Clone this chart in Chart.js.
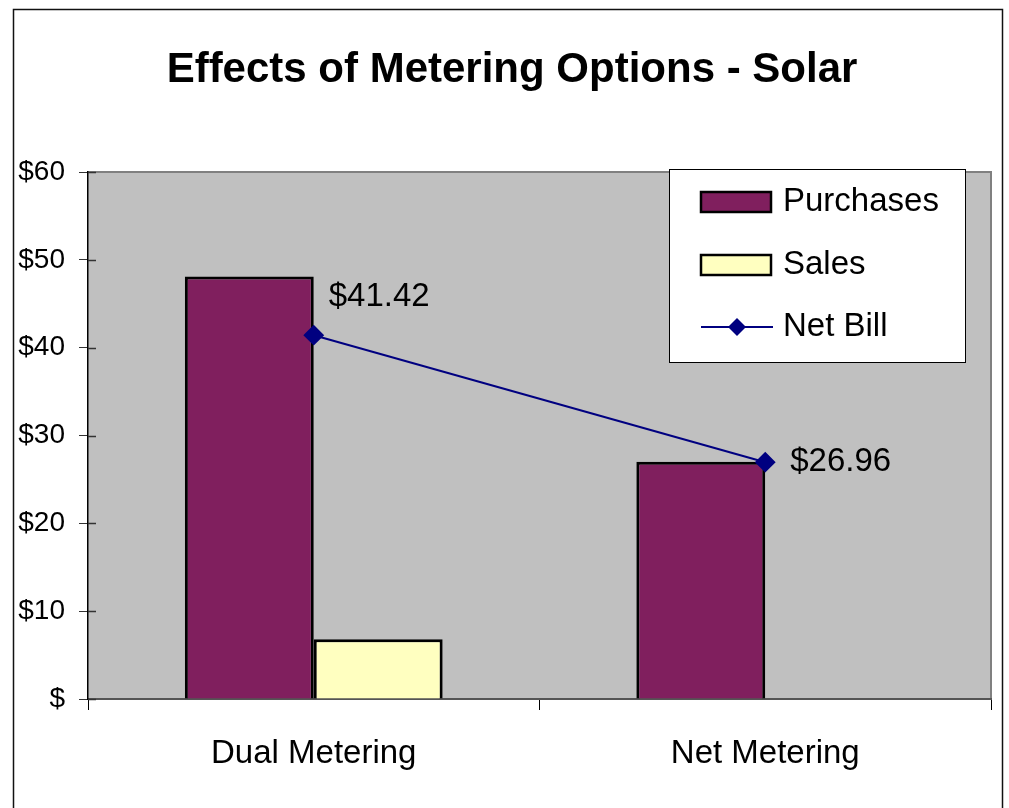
<!DOCTYPE html>
<html>
<head>
<meta charset="utf-8">
<script src="https://cdn.jsdelivr.net/npm/chart.js@4/dist/chart.umd.min.js"></script>
<style>
  html, body { margin: 0; padding: 0; background: #fff; }
  #wrap { width: 1009px; height: 808px; }
</style>
</head>
<body>
<div id="wrap"><canvas id="chart" width="1009" height="808"></canvas></div>
<script>
const categories = ['Dual Metering', 'Net Metering'];
const purchases = [48.1, 27.0];
const sales = [6.8, 0];
const netBill = [41.42, 26.96];
const yTicks = [0, 10, 20, 30, 40, 50, 60];

const FONT = '"Liberation Sans", Arial, sans-serif';

// gray plot area, outer frame and title
const frame = {
    id: 'frame',
    beforeDraw(chart) {
        const { ctx, chartArea: a } = chart;
        ctx.save();
        ctx.fillStyle = '#fff';
        ctx.fillRect(0, 0, chart.width, chart.height);
        ctx.fillStyle = '#c0c0c0';
        ctx.fillRect(a.left, a.top, a.right - a.left, a.bottom - a.top);
        ctx.strokeStyle = '#808080';
        ctx.lineWidth = 2;
        ctx.beginPath();
        ctx.moveTo(a.left, a.top);
        ctx.lineTo(a.right, a.top);
        ctx.lineTo(a.right, a.bottom);
        ctx.stroke();
        ctx.strokeStyle = '#111';
        ctx.lineWidth = 1.5;
        ctx.strokeRect(13.5, 9.5, 989, 830);
        ctx.fillStyle = '#000';
        ctx.font = 'bold 42px ' + FONT;
        ctx.textAlign = 'center';
        ctx.textBaseline = 'middle';
        ctx.fillText('Effects of Metering Options - Solar', 512, 70);
        ctx.restore();
    },
    afterDraw(chart) {
        // y tick marks cross into the plot area a little
        const { ctx, chartArea: a } = chart;
        const y = chart.scales.y;
        ctx.save();
        ctx.strokeStyle = '#333';
        ctx.lineWidth = 1.5;
        yTicks.forEach((v) => {
            const py = Math.round(y.getPixelForValue(v)) + 0.5;
            ctx.beginPath();
            ctx.moveTo(a.left, py);
            ctx.lineTo(a.left + 8, py);
            ctx.stroke();
        });
        ctx.restore();
    },
};

// value labels next to the net bill points
const pointLabels = {
    id: 'pointLabels',
    afterDatasetsDraw(chart) {
        const { ctx } = chart;
        const meta = chart.getDatasetMeta(2);
        const offsets = [[15, -38], [25, 0]];
        ctx.save();
        ctx.fillStyle = '#000';
        ctx.font = '33px ' + FONT;
        ctx.textAlign = 'left';
        ctx.textBaseline = 'middle';
        meta.data.forEach((pt, i) => {
            ctx.fillText('$' + netBill[i].toFixed(2), pt.x + offsets[i][0], pt.y + offsets[i][1]);
        });
        ctx.restore();
    },
};

// legend box drawn inside the plot area
const boxLegend = {
    id: 'boxLegend',
    afterDraw(chart) {
        const { ctx, chartArea: a } = chart;
        const w = 296, h = 193;
        const left = a.right - 26 - w, top = a.top - 3;
        ctx.save();
        ctx.fillStyle = '#fff';
        ctx.fillRect(left, top, w, h);
        ctx.strokeStyle = '#000';
        ctx.lineWidth = 1;
        ctx.strokeRect(left + 0.5, top + 0.5, w, h);
        ctx.font = '33px ' + FONT;
        ctx.textBaseline = 'middle';
        const rows = [33, 96, 158];
        chart.data.datasets.forEach((ds, i) => {
            const cy = top + rows[i];
            if (ds.type === 'line') {
                ctx.strokeStyle = ds.borderColor;
                ctx.lineWidth = 2;
                ctx.beginPath();
                ctx.moveTo(left + 32, cy);
                ctx.lineTo(left + 104, cy);
                ctx.stroke();
                ctx.fillStyle = ds.borderColor;
                ctx.beginPath();
                ctx.moveTo(left + 68, cy - 9);
                ctx.lineTo(left + 77, cy);
                ctx.lineTo(left + 68, cy + 9);
                ctx.lineTo(left + 59, cy);
                ctx.closePath();
                ctx.fill();
            } else {
                ctx.fillStyle = ds.backgroundColor;
                ctx.fillRect(left + 32, cy - 10, 70, 20);
                ctx.strokeStyle = '#000';
                ctx.lineWidth = 2.5;
                ctx.strokeRect(left + 32, cy - 10, 70, 20);
            }
            ctx.fillStyle = '#000';
            ctx.fillText(ds.label, left + 114, cy);
        });
        ctx.restore();
    },
};

new Chart(document.getElementById('chart'), {
    data: {
        labels: categories,
        datasets: [
            {
                type: 'bar',
                label: 'Purchases',
                data: purchases,
                backgroundColor: '#801f5e',
                borderColor: '#000',
                borderWidth: 3,
                categoryPercentage: 0.571,
                barPercentage: 1,
                order: 2,
            },
            {
                type: 'bar',
                label: 'Sales',
                data: sales,
                backgroundColor: '#ffffc0',
                borderColor: '#000',
                borderWidth: 3,
                categoryPercentage: 0.571,
                barPercentage: 1,
                order: 2,
            },
            {
                type: 'line',
                label: 'Net Bill',
                data: netBill,
                borderColor: '#000080',
                backgroundColor: '#000080',
                borderWidth: 2,
                pointStyle: 'rectRot',
                pointRadius: 9,
                pointHoverRadius: 9,
                tension: 0,
                order: 1,
            },
        ],
    },
    options: {
        responsive: false,
        animation: false,
        events: [],
        layout: {
            padding: { top: 172, right: 18, left: 0, bottom: 0 },
        },
        scales: {
            x: {
                offset: true,
                grid: {
                    offset: true,
                    drawOnChartArea: false,
                    color: '#000',
                    tickLength: 11,
                },
                border: { color: '#555', width: 2 },
                ticks: {
                    color: '#000',
                    font: { family: FONT, size: 33 },
                    padding: 24,
                },
                afterFit: (scale) => { scale.height = 109; },
            },
            y: {
                min: 0,
                max: 60,
                afterBuildTicks: (scale) => { scale.ticks = yTicks.map((v) => ({ value: v })); },
                grid: {
                    drawOnChartArea: false,
                    color: '#333',
                    tickLength: 9,
                },
                border: { color: '#000', width: 1.5 },
                ticks: {
                    color: '#000',
                    font: { family: FONT, size: 28 },
                    padding: 14,
                    callback: (v) => (v === 0 ? '$' : '$' + v),
                },
                afterFit: (scale) => { scale.width = 88; },
            },
        },
        plugins: {
            legend: { display: false },
            title: { display: false },
            tooltip: { enabled: false },
        },
    },
    plugins: [frame, pointLabels, boxLegend],
});
</script>
</body>
</html>
